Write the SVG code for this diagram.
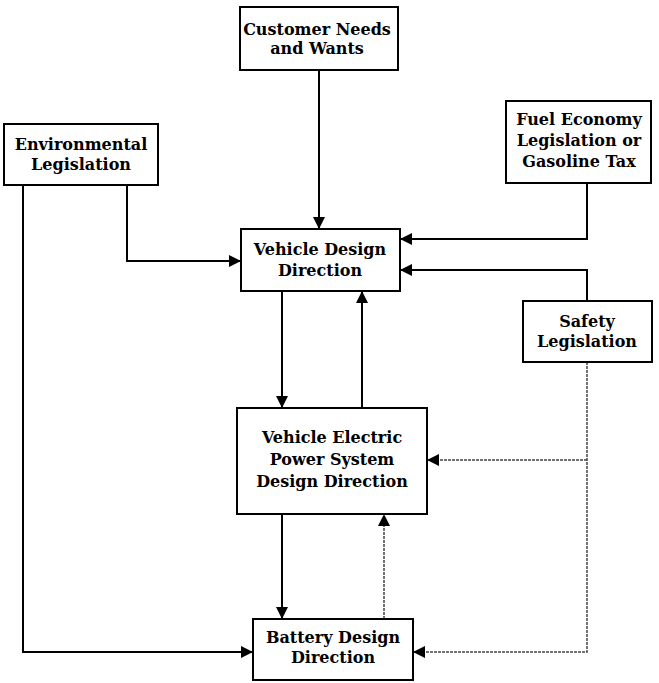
<svg xmlns="http://www.w3.org/2000/svg" width="659" height="683" viewBox="0 0 659 683">
<style>
.box{fill:#fff;stroke:#000;stroke-width:2}
.t{font-family:"DejaVu Serif","Liberation Serif",serif;font-weight:bold;font-size:16px;text-anchor:middle;fill:#000}
.c{fill:none;stroke:#000;stroke-width:2}
.d{fill:none;stroke:#444;stroke-width:1.5;stroke-dasharray:3 1}
</style>
<defs>
<marker id="a" viewBox="0 0 10 10" refX="10" refY="5" markerWidth="6" markerHeight="6" markerUnits="strokeWidth" orient="auto"><path d="M0,0L10,5L0,10z" fill="#000"/></marker>
<marker id="b" viewBox="0 0 10 10" refX="10" refY="5" markerWidth="8" markerHeight="8" markerUnits="strokeWidth" orient="auto"><path d="M0,0L10,5L0,10z" fill="#000"/></marker>
</defs>
<g id="connectors">
<path class="c" d="M319,70V229" marker-end="url(#a)"/>
<path class="c" d="M127,185V261H241" marker-end="url(#a)"/>
<path class="c" d="M23,185V652H253" marker-end="url(#a)"/>
<path class="c" d="M587,183V239H400" marker-end="url(#a)"/>
<path class="c" d="M587,301V270H400" marker-end="url(#a)"/>
<path class="c" d="M282,291V408" marker-end="url(#a)"/>
<path class="c" d="M362,408V291" marker-end="url(#a)"/>
<path class="c" d="M282,514V619" marker-end="url(#a)"/>
<path class="d" d="M384,619V514" marker-end="url(#b)"/>
<path class="d" d="M587,362V652H413" marker-end="url(#b)"/>
<path class="d" d="M587,460H427" marker-end="url(#b)"/>
</g>
<g id="customer"><rect class="box" x="240" y="7" width="158" height="63"/><text class="t" x="317" y="35">Customer Needs</text><text class="t" x="317" y="54">and Wants</text></g>
<g id="environmental"><rect class="box" x="4" y="124" width="154" height="61"/><text class="t" x="81" y="150">Environmental</text><text class="t" x="81" y="170">Legislation</text></g>
<g id="fuel"><rect class="box" x="506" y="101" width="145" height="82"/><text class="t" x="579" y="125">Fuel Economy</text><text class="t" x="579" y="146">Legislation or</text><text class="t" x="579" y="167">Gasoline Tax</text></g>
<g id="vdd"><rect class="box" x="241" y="229" width="159" height="62"/><text class="t" x="320" y="255">Vehicle Design</text><text class="t" x="320" y="276">Direction</text></g>
<g id="safety"><rect class="box" x="523" y="301" width="129" height="61"/><text class="t" x="587" y="327">Safety</text><text class="t" x="587" y="347">Legislation</text></g>
<g id="veps"><rect class="box" x="237" y="408" width="190" height="106"/><text class="t" x="332" y="443">Vehicle Electric</text><text class="t" x="332" y="465">Power System</text><text class="t" x="332" y="487">Design Direction</text></g>
<g id="battery"><rect class="box" x="253" y="619" width="160" height="61"/><text class="t" x="333" y="643">Battery Design</text><text class="t" x="333" y="663">Direction</text></g>
</svg>
